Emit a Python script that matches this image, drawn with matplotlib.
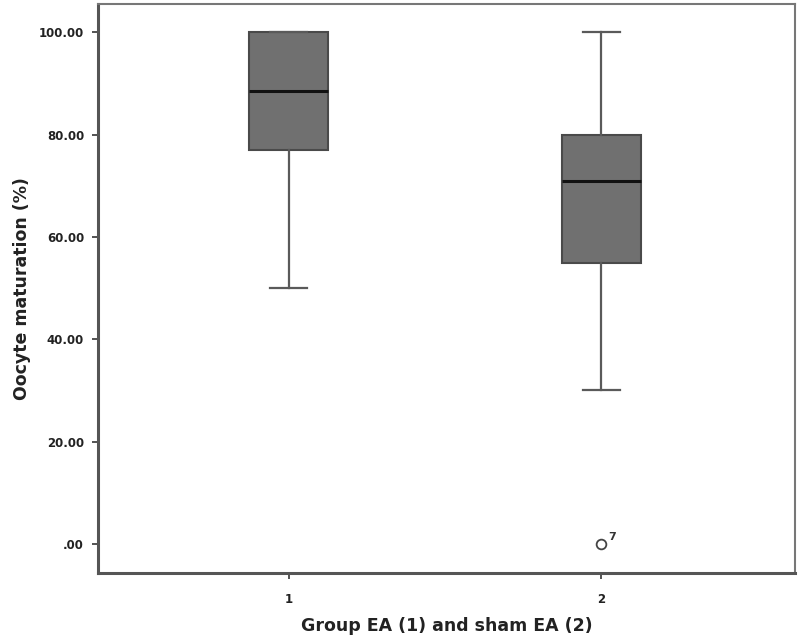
import matplotlib
matplotlib.use("Agg")
import matplotlib.pyplot as plt

groups = ["1", "2"]
whisker_low = [50, 30]
q1 = [77, 55]
medians = [88.5, 71]
q3 = [100, 80]
whisker_high = [100, 100]
outliers = [[], [0]]
outlier_labels = [[], ["7"]]

y_ticks = [0, 20, 40, 60, 80, 100]
y_tick_labels = [".00", "20.00", "40.00", "60.00", "80.00", "100.00"]


def make_plot():
    fig = plt.figure(figsize=(8, 6.44), dpi=100)
    ax = fig.add_axes([0.1225, 0.110, 0.871, 0.8835])

    stats = []
    for i in range(len(groups)):
        stats.append({
            "whislo": whisker_low[i], "q1": q1[i], "med": medians[i],
            "q3": q3[i], "whishi": whisker_high[i], "fliers": outliers[i],
        })
    positions = list(range(1, len(groups) + 1))
    ax.bxp(stats, positions=positions, widths=0.252, patch_artist=True,
           showfliers=True,
           boxprops=dict(facecolor="#707070", edgecolor="#4a4a4a", linewidth=1.5),
           medianprops=dict(color="#111111", linewidth=2.2),
           whiskerprops=dict(color="#5a5a5a", linewidth=1.6),
           capprops=dict(color="#5a5a5a", linewidth=1.6),
           capwidths=0.12,
           flierprops=dict(marker="o", markersize=7, markerfacecolor="white",
                           markeredgecolor="#444444", markeredgewidth=1.3))

    for pos, vals, labels in zip(positions, outliers, outlier_labels):
        for v, lab in zip(vals, labels):
            ax.annotate(lab, (pos, v), xytext=(5, 3), textcoords="offset points",
                        fontsize=8, fontweight="bold", color="#333333")

    ax.set_xlim(0.391, 2.618)
    ax.set_ylim(-5.7, 105.5)
    ax.set_xticks(positions)
    ax.set_xticklabels(groups)
    ax.set_yticks(y_ticks)
    ax.set_yticklabels(y_tick_labels)
    ax.tick_params(axis="both", labelsize=8.5, length=4, width=1.3,
                   color="#444444", labelcolor="#222222")
    ax.tick_params(axis="x", pad=10)
    ax.tick_params(axis="y", pad=6)
    for lab in ax.get_xticklabels() + ax.get_yticklabels():
        lab.set_fontweight("bold")

    for side in ["left", "bottom"]:
        ax.spines[side].set_linewidth(2.2)
        ax.spines[side].set_color("#555555")
    for side in ["top", "right"]:
        ax.spines[side].set_linewidth(1.5)
        ax.spines[side].set_color("#777777")

    ax.set_xlabel("Group EA (1) and sham EA (2)", fontsize=12.5, fontweight="bold",
                  color="#222222", labelpad=8)
    ax.set_ylabel("Oocyte maturation (%)", fontsize=12.5, fontweight="bold",
                  color="#222222", labelpad=6)

    fig.savefig("out.png", dpi=100)


if __name__ == "__main__":
    make_plot()
